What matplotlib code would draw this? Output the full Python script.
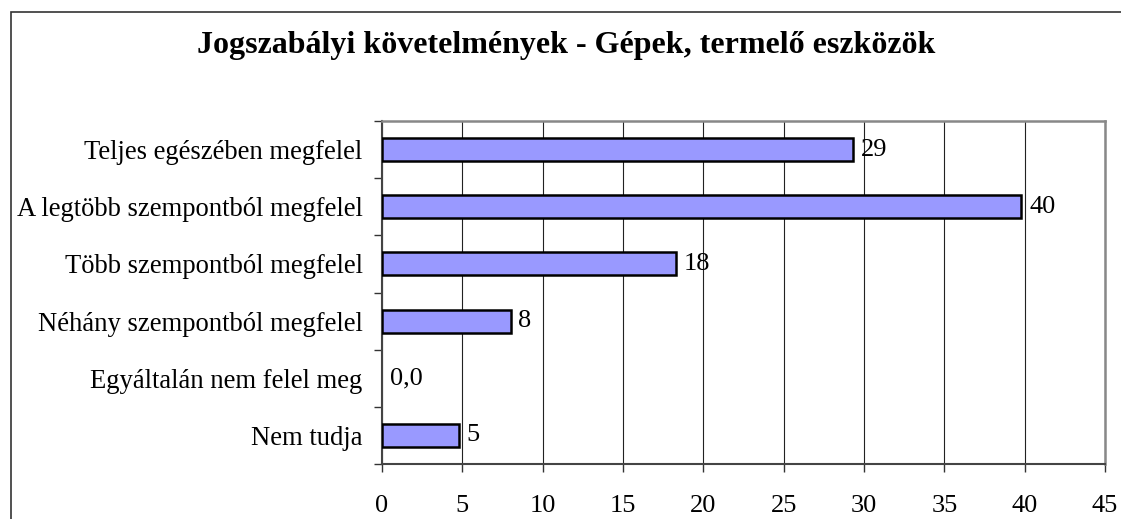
import matplotlib
matplotlib.use("Agg")
import matplotlib.pyplot as plt
from matplotlib.patches import Rectangle

categories = [
    "Teljes egészében megfelel",
    "A legtöbb szempontból megfelel",
    "Több szempontból megfelel",
    "Néhány szempontból megfelel",
    "Egyáltalán nem felel meg",
    "Nem tudja",
]
values = [29.3, 39.8, 18.3, 8.0, 0.0, 4.8]
value_labels = ["29", "40", "18", "8", "0,0", "5"]
xticks = [0, 5, 10, 15, 20, 25, 30, 35, 40, 45]
title = "Jogszabályi követelmények - Gépek, termelő eszközök"

W, H = 1121, 519
plt.rcParams['font.family'] = ['Liberation Serif', 'DejaVu Serif']
fig = plt.figure(figsize=(W / 100, H / 100), dpi=100)

# outer chart border (cropped at right and bottom)
fig.patches.append(Rectangle((11 / W, -0.1), 1.2, 1 - 12 / H + 0.1,
                             transform=fig.transFigure, fill=False,
                             edgecolor="#333333", linewidth=1.2))

left, right, top, bottom = 382 / W, 1105 / W, 121 / H, 464 / H
ax = fig.add_axes([left, 1 - bottom, right - left, bottom - top])

n = len(categories)
ypos = list(range(n))
lws = [1.8 if v > 0 else 0 for v in values]
ax.barh(ypos, values, height=0.4, color="#9999FF", edgecolor="black",
        linewidth=lws, zorder=3)
ax.set_ylim(n - 0.5, -0.5)
ax.set_xlim(0, 45)

for y, v, lab in zip(ypos, values, value_labels):
    ax.annotate(lab, (v, y), xytext=(5.5, 0), textcoords="offset points",
                va="center", ha="left", fontsize=19, zorder=4)

ax.set_xticks(xticks)
ax.set_xticklabels([str(t) for t in xticks], fontsize=19)
ax.xaxis.grid(True, color="#222222", linewidth=0.8, zorder=0)
ax.set_axisbelow(True)

ax.set_yticks([i + 0.5 for i in range(-1, n)])
ax.set_yticklabels([])
ax.set_yticks(ypos, minor=True)
ax.set_yticklabels(categories, minor=True, fontsize=19.2)
ax.tick_params(axis="y", which="minor", length=0, pad=14)
ax.tick_params(axis="y", which="major", length=6, direction="out",
               color="#333333", width=1)
ax.tick_params(axis="x", length=6, direction="out", color="#333333",
               width=1, pad=16)

for s in ["top", "right"]:
    ax.spines[s].set_color("#888888")
    ax.spines[s].set_linewidth(1.8)
for s in ["left", "bottom"]:
    ax.spines[s].set_color("#444444")
    ax.spines[s].set_linewidth(1.5)

fig.text(566 / W, 1 - 45 / H, title, ha="center", va="center",
         fontsize=23, fontweight="bold")

fig.savefig("out.png", dpi=100)
